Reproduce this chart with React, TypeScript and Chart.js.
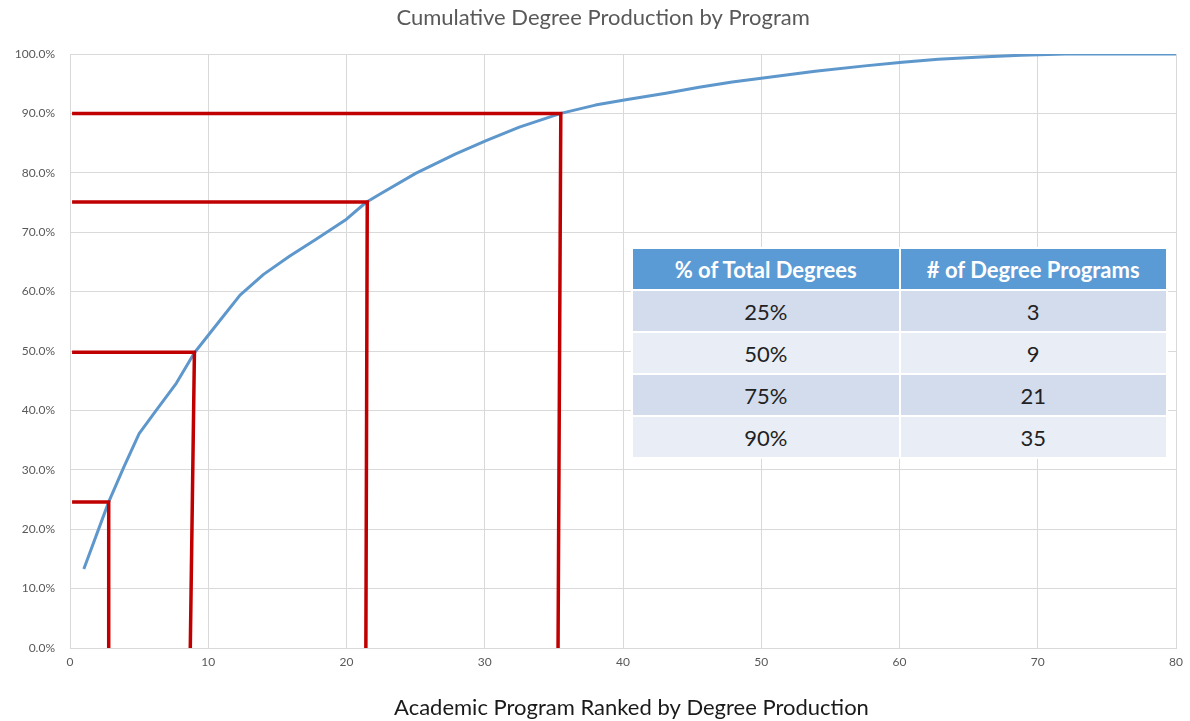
import React, { useEffect, useRef } from "react";
import { Chart, registerables } from "chart.js";

Chart.register(...registerables);

// Cumulative share of degrees vs. program rank
const programRank = [1, 2.8, 3.9, 5, 6.3, 7.7, 9, 10.8, 12.3, 14, 15.9, 17.8, 20, 21.4, 22.4, 25, 27.9, 30.1, 32.5, 35.5, 38, 40.2, 43.1, 45.5, 47.9, 50, 53.9, 57.5, 60.2, 62.8, 65.9, 68.8, 72, 80];
const cumulativePct = [13.3, 24.6, 30.5, 36.1, 40.2, 44.6, 49.7, 55.0, 59.4, 62.9, 66.0, 68.8, 72.2, 75.0, 76.4, 79.9, 83.2, 85.4, 87.7, 90.0, 91.4, 92.3, 93.4, 94.4, 95.3, 95.9, 97.1, 98.0, 98.6, 99.1, 99.5, 99.8, 100, 100];

// Red threshold guide lines
const thresholdPct = [24.6, 49.8, 75.1, 90.0];
const thresholdRankTop = [2.8, 9.0, 21.5, 35.5];
const thresholdRankBottom = [2.8, 8.7, 21.4, 35.3];
const thresholdStartRank = 0.15;

// Summary table
const tableHeaders = ["% of Total Degrees", "# of Degree Programs"];
const tablePctLabels = ["25%", "50%", "75%", "90%"];
const tableProgramCounts = [3, 9, 21, 35];

const FONT = "Lato, 'Open Sans', sans-serif";

export default function App() {
  const ref = useRef<HTMLCanvasElement>(null);

  useEffect(() => {
    document.body.style.margin = "0";
    const redSets = thresholdPct.map((p, i) => ({
      data: [
        { x: thresholdStartRank, y: p },
        { x: thresholdRankTop[i], y: p },
        { x: thresholdRankBottom[i], y: 0 },
      ],
      showLine: true,
      borderColor: "#C00000",
      borderWidth: 3.5,
      pointRadius: 0,
      order: 0,
    }));
    const chart = new Chart(ref.current!, {
      type: "scatter",
      data: {
        datasets: [
          ...redSets,
          {
            data: programRank.map((x, i) => ({ x, y: cumulativePct[i] })),
            showLine: true,
            borderColor: "#5E97CB",
            borderWidth: 3,
            pointRadius: 0,
            tension: 0,
            borderJoinStyle: "round",
            order: 1,
          },
        ],
      } as any,
      options: {
        animation: false,
        responsive: true,
        maintainAspectRatio: false,
        layout: { padding: { left: 0, right: 12, top: 0, bottom: 0 } },
        plugins: {
          legend: { display: false },
          tooltip: { enabled: false },
          title: {
            display: true,
            text: "     Cumulative Degree Production by Program",
            color: "#595959",
            font: { family: FONT, size: 22, weight: "normal", lineHeight: 1 },
            padding: { top: 7, bottom: 25 },
          },
        },
        scales: {
          x: {
            type: "linear",
            min: 0,
            max: 80,
            ticks: { stepSize: 10, color: "#595959", font: { family: FONT, size: 12 }, padding: 7 },
            grid: { color: "#D9D9D9", drawTicks: false },
            border: { color: "#D9D9D9" },
            title: {
              display: true,
              text: "   Academic Program Ranked by Degree Production",
              color: "#1A1A1A",
              font: { family: FONT, size: 22, lineHeight: 1 },
              padding: { top: 0, bottom: 2 },
            },
            afterFit: (s: any) => {
              s.height = 73;
            },
          },
          y: {
            type: "linear",
            min: 0,
            max: 100,
            ticks: {
              stepSize: 10,
              color: "#595959",
              font: { family: FONT, size: 12 },
              padding: 15,
              callback: (v: any) => Number(v).toFixed(1) + "%",
            },
            grid: { color: "#D9D9D9", drawTicks: false },
            border: { color: "#D9D9D9" },
            afterFit: (s: any) => {
              s.width = 70;
            },
          },
        },
      } as any,
    });
    return () => chart.destroy();
  }, []);

  const cell: React.CSSProperties = {
    textAlign: "center",
    padding: 0,
    height: 40,
    fontFamily: FONT,
  };

  return (
    <div style={{ position: "relative", width: 1190, height: 721, background: "#fff" }}>
      <canvas ref={ref} />
      <table
        style={{
          position: "absolute",
          left: 633,
          top: 249,
          width: 537,
          borderCollapse: "separate",
          borderSpacing: 2,
          margin: -2,
          background: "#fff",
        }}
      >
        <thead>
          <tr>
            {tableHeaders.map((h) => (
              <th
                key={h}
                style={{
                  ...cell,
                  background: "#5B9BD5",
                  color: "#fff",
                  fontWeight: "bold",
                  fontSize: 22,
                  width: "50%",
                }}
              >
                {h}
              </th>
            ))}
          </tr>
        </thead>
        <tbody>
          {tablePctLabels.map((p, i) => (
            <tr key={p}>
              {[p, String(tableProgramCounts[i])].map((t, j) => (
                <td
                  key={j}
                  style={{
                    ...cell,
                    background: i % 2 === 0 ? "#D2DCEC" : "#E9EEF6",
                    color: "#222",
                    fontSize: 22,
                  }}
                >
                  {t}
                </td>
              ))}
            </tr>
          ))}
        </tbody>
      </table>
    </div>
  );
}
